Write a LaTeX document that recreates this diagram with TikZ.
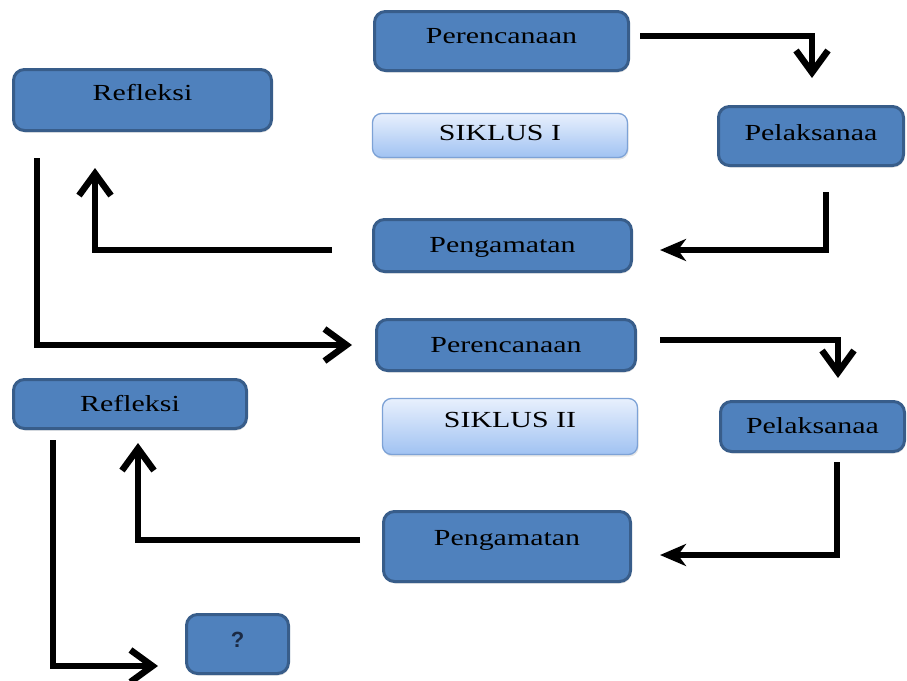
\documentclass[tikz,border=0pt]{standalone}
\usepackage{fontspec}
\setmainfont{Liberation Serif}[FakeStretch=1.3]
\newfontfamily\qfont{Liberation Sans}
\usetikzlibrary{arrows.meta,shadows}
\definecolor{boxfill}{RGB}{79,129,189}
\definecolor{boxdraw}{RGB}{56,93,138}
\definecolor{sikTop}{RGB}{232,240,253}
\definecolor{sikBot}{RGB}{160,194,242}
\definecolor{sikDraw}{RGB}{125,162,214}
\definecolor{qcol}{RGB}{27,42,68}
\begin{document}
\begin{tikzpicture}[x=1pt,y=-1pt,
  stagebox/.style={draw=boxdraw, line width=3pt, fill=boxfill, rounded corners=11pt,
    inner sep=0pt, text height=15pt, font=\fontsize{23}{27}\selectfont, text=black,
    drop shadow={opacity=0.25, shadow xshift=1pt, shadow yshift=-2pt}},
  cyclebox/.style={draw=sikDraw, line width=1.3pt, top color=sikTop, bottom color=sikBot,
    rounded corners=9pt, inner sep=0pt, text height=15pt, font=\fontsize{23}{27}\selectfont,
    text=black, drop shadow={opacity=0.2, shadow xshift=1pt, shadow yshift=-2pt}},
  flowarr/.style={line width=5.5pt, -{Straight Barb[length=22pt,width=32pt,line width'=6.5pt]}},
  backarr/.style={line width=5.5pt, -{Stealth[length=26pt,width=22pt,inset=8pt]}}
]
\useasboundingbox (0,0) rectangle (907,680);

% Siklus I
\node[stagebox, minimum width=254pt, minimum height=59pt, text depth=11pt] (p1) at (501.5,41) {Perencanaan};
\node[cyclebox, minimum width=255pt, minimum height=44pt, text depth=6pt] (s1) at (500,135.5) {SIKLUS I};
\node[stagebox, minimum width=185pt, minimum height=59pt, text depth=7pt] (l1) at (811,136) {Pelaksanaa};
\node[stagebox, minimum width=258pt, minimum height=61pt, text depth=15pt] (r1) at (142.5,100) {Refleksi};
\node[stagebox, minimum width=258pt, minimum height=52pt, text depth=2pt] (g1) at (502.5,245.5) {Pengamatan};

% Siklus II
\node[stagebox, minimum width=259pt, minimum height=51pt, text depth=0pt, text height=14pt] (p2) at (506,345) {Perencanaan};
\node[cyclebox, minimum width=255pt, minimum height=56pt, text depth=14pt] (s2) at (510,426.5) {SIKLUS II};
\node[stagebox, minimum width=184pt, minimum height=50pt, text depth=0pt, text height=13pt] (l2) at (812.5,426.5) {Pelaksanaa};
\node[stagebox, minimum width=233pt, minimum height=49pt, text depth=0pt, text height=14pt] (r2) at (130,404) {Refleksi};
\node[stagebox, minimum width=247pt, minimum height=70pt, text depth=18pt] (g2) at (507,546.5) {Pengamatan};
\node[stagebox, minimum width=102pt, minimum height=59pt, text depth=9pt, font=\qfont\bfseries\fontsize{22}{26}\selectfont, text=qcol] (q) at (237.5,644) {?};

% connectors
\draw[flowarr] ([xshift=10pt,yshift=5pt]p1.east) -| ([xshift=1pt,yshift=27pt]l1.north);
\draw[backarr] ([xshift=15pt,yshift=-25pt]l1.south) |- ([xshift=27pt,yshift=-4.5pt]g1.east);
\draw[flowarr] ([xshift=-40pt,yshift=-4.5pt]g1.west) -| ([xshift=-47.5pt,yshift=-36pt]r1.south);
\draw[flowarr] ([xshift=-105.5pt,yshift=-26pt]r1.south) |- ([xshift=-23pt]p2.west);
\draw[flowarr] ([xshift=23pt,yshift=5pt]p2.east) -| ([xshift=25.5pt,yshift=22pt]l2.north);
\draw[backarr] ([xshift=24.5pt,yshift=-9pt]l2.south) |- ([xshift=28pt,yshift=-8.5pt]g2.east);
\draw[flowarr] ([xshift=-22pt,yshift=6.5pt]g2.west) -| ([xshift=8pt,yshift=-13pt]r2.south);
\draw[flowarr] ([xshift=-77pt,yshift=-10pt]r2.south) |- ([xshift=-27pt,yshift=-22pt]q.west);
\end{tikzpicture}
\end{document}
